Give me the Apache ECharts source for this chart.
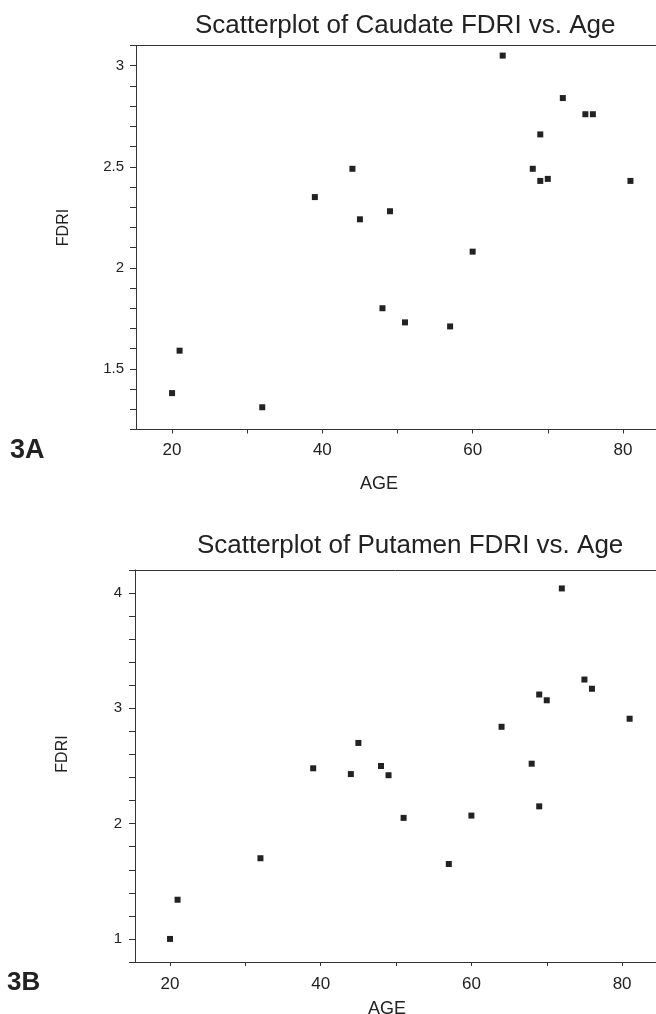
<!DOCTYPE html>
<html>
<head>
<meta charset="utf-8">
<script src="https://cdn.jsdelivr.net/npm/echarts@6/dist/echarts.min.js"></script>
<style>
html,body{margin:0;padding:0;background:#fff;}
#chart{width:656px;height:1014px;}
</style>
</head>
<body>
<div id="chart"></div>
<script>
// ---- data ----
const ages = [20, 21, 32, 39, 44, 45, 48, 49, 51, 57, 60, 64, 68, 69, 69, 70, 72, 75, 76, 81];
const caudateFDRI = [1.38, 1.59, 1.31, 2.35, 2.49, 2.24, 1.80, 2.28, 1.73, 1.71, 2.08, 3.05, 2.49, 2.66, 2.43, 2.44, 2.84, 2.76, 2.76, 2.43];
const putamenFDRI = [1.00, 1.34, 1.70, 2.48, 2.43, 2.70, 2.50, 2.42, 2.05, 1.65, 2.07, 2.84, 2.52, 3.12, 2.15, 3.07, 4.04, 3.25, 3.17, 2.91];
const xTickValues = [20, 30, 40, 50, 60, 70, 80];
const xLabelValues = [20, 40, 60, 80];
const yLabelsA = [1.5, 2, 2.5, 3];
const yLabelsB = [1, 2, 3, 4];
const titleA = 'Scatterplot of Caudate FDRI vs. Age';
const titleB = 'Scatterplot of Putamen FDRI vs. Age';
const panelA = '3A';
const panelB = '3B';

const FONT = "'Liberation Sans', Arial, Helvetica, sans-serif";
const INK = '#222';
const LINE = '#333';

function pairs(xs, ys) { return xs.map((x, i) => [x, ys[i]]); }

function xAxisCfg(gridIndex, min, max, labelMargin, nameGap, namePadRight) {
  return {
    type: 'value', gridIndex, min, max,
    splitLine: {show: false},
    axisLine: {show: true, onZero: false, lineStyle: {color: LINE, width: 1}},
    axisTick: {show: true, inside: false, length: 4, customValues: xTickValues, lineStyle: {color: LINE}},
    axisLabel: {customValues: xLabelValues, margin: labelMargin, color: INK, fontSize: 17, fontFamily: FONT},
    name: 'AGE', nameLocation: 'middle', nameGap,
    nameTextStyle: {color: INK, fontSize: 18, fontFamily: FONT, padding: [0, namePadRight, 0, 0]}
  };
}
function topBorder(gridIndex, min, max) {
  return {
    type: 'value', gridIndex, position: 'top', min, max,
    splitLine: {show: false}, axisTick: {show: false}, axisLabel: {show: false},
    axisLine: {show: true, onZero: false, lineStyle: {color: LINE, width: 1}}
  };
}
function yAxisCfg(gridIndex, min, max, interval, labels, labelMargin, padLeft) {
  return {
    type: 'value', gridIndex, min, max, interval,
    splitLine: {show: false},
    axisLine: {show: true, onZero: false, lineStyle: {color: LINE, width: 1}},
    axisTick: {show: true, inside: false, length: 6, lineStyle: {color: LINE}},
    axisLabel: {customValues: labels, margin: labelMargin, color: INK, fontSize: 15, fontFamily: FONT},
    name: 'FDRI', nameLocation: 'middle', nameGap: 64, nameRotate: 90,
    nameTextStyle: {color: INK, fontSize: 16, fontFamily: FONT, padding: [0, 0, 0, padLeft]}
  };
}

const chart = echarts.init(document.getElementById('chart'), null, {renderer: 'canvas'});
chart.setOption({
  backgroundColor: '#fff',
  animation: false,
  title: [
    {text: titleA, left: 190, top: 8, textStyle: {fontSize: 26, fontWeight: 'normal', color: INK, fontFamily: FONT}},
    {text: titleB, left: 192, top: 528, textStyle: {fontSize: 26, fontWeight: 'normal', color: INK, fontFamily: FONT}}
  ],
  grid: [
    {left: 136, right: 0, top: 45.5, height: 384, containLabel: false, outerBoundsMode: 'none'},
    {left: 135, right: 0, top: 570, height: 392, containLabel: false, outerBoundsMode: 'none'}
  ],
  xAxis: [
    xAxisCfg(0, 15.2, 84.4, 12, 46, 34),
    topBorder(0, 15.2, 84.4),
    xAxisCfg(1, 15.35, 84.5, 14, 38, 17),
    topBorder(1, 15.35, 84.5)
  ],
  yAxis: [
    yAxisCfg(0, 1.2, 3.1, 0.1, yLabelsA, 12, 20),
    yAxisCfg(1, 0.8, 4.2, 0.2, yLabelsB, 13, 24)
  ],
  graphic: [
    {type: 'text', left: 10, top: 437, style: {text: panelA, font: "bold 27px " + FONT, fill: INK}},
    {type: 'text', left: 7, top: 970, style: {text: panelB, font: "bold 26px " + FONT, fill: INK}}
  ],
  series: [
    {type: 'scatter', xAxisIndex: 0, yAxisIndex: 0, data: pairs(ages, caudateFDRI),
     symbol: 'rect', symbolSize: 6, itemStyle: {color: INK, opacity: 1}},
    {type: 'scatter', xAxisIndex: 2, yAxisIndex: 1, data: pairs(ages, putamenFDRI),
     symbol: 'rect', symbolSize: 6, itemStyle: {color: INK, opacity: 1}}
  ]
});
</script>
</body>
</html>
